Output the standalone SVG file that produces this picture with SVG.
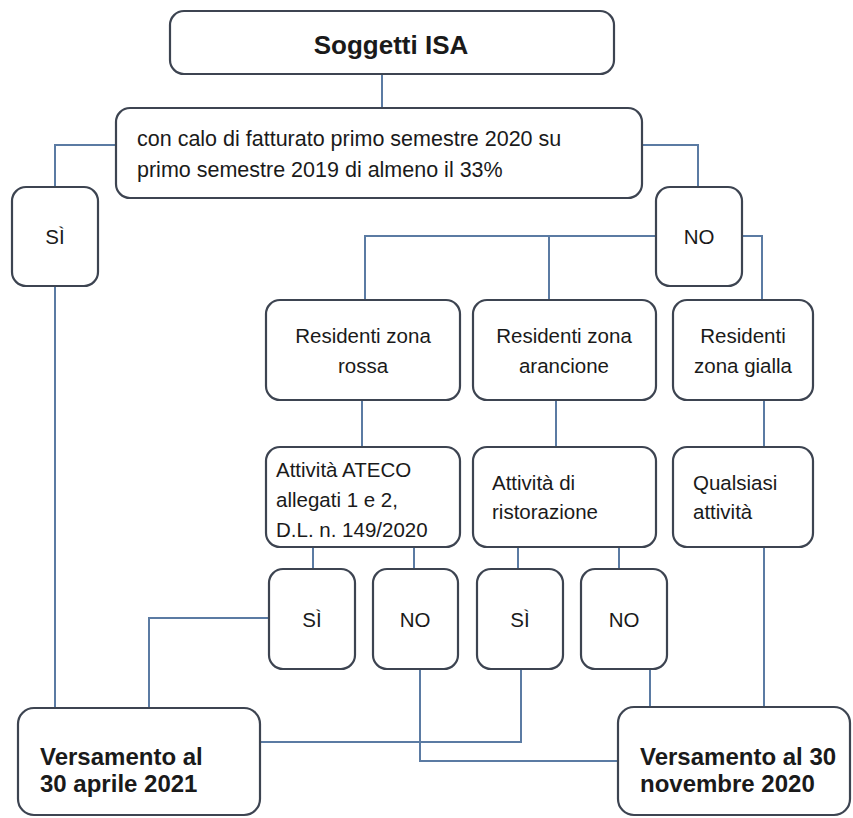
<svg xmlns="http://www.w3.org/2000/svg" width="853" height="818" viewBox="0 0 853 818">
<style>
.box{fill:#fff;stroke:#3d4451;stroke-width:2.2}
.ln{fill:none;stroke:#5b7ba3;stroke-width:2}
text{font-family:"Liberation Sans",Arial,sans-serif;fill:#1a1a1a}
.t{font-size:20.5px}
.c{text-anchor:middle}
.b{font-weight:bold;font-size:24px}
</style>
<rect width="853" height="818" fill="#fff"/>
<g id="connectors">
<polyline class="ln" points="382,74 382,108"/>
<polyline class="ln" points="116,145 55,145 55,187"/>
<polyline class="ln" points="642,145 698,145 698,187"/>
<polyline class="ln" points="656,236 365,236 365,300"/>
<polyline class="ln" points="549,236 549,300"/>
<polyline class="ln" points="742,236 762,236 762,300"/>
<polyline class="ln" points="362,400 362,447"/>
<polyline class="ln" points="556,400 556,447"/>
<polyline class="ln" points="764,400 764,447"/>
<polyline class="ln" points="313,547 313,569"/>
<polyline class="ln" points="414,547 414,569"/>
<polyline class="ln" points="518,547 518,569"/>
<polyline class="ln" points="619,547 619,569"/>
<polyline class="ln" points="764,547 764,707"/>
<polyline class="ln" points="55,286 55,708"/>
<polyline class="ln" points="269,618 149,618 149,708"/>
<polyline class="ln" points="260,742 521,742 521,669"/>
<polyline class="ln" points="420,669 420,761 618,761"/>
<polyline class="ln" points="650,669 650,707"/>
</g>
<g id="soggetti"><rect class="box" x="170" y="11" width="444" height="63" rx="14"/><text class="c" x="391" y="54" style="font-weight:bold;font-size:26px">Soggetti ISA</text></g>
<g id="condizione"><rect class="box" x="116" y="108" width="526" height="90" rx="14"/><text class="t" x="137" y="146" style="font-size:21.5px">con calo di fatturato primo semestre 2020 su</text><text class="t" x="137" y="177" style="font-size:21.5px">primo semestre 2019 di almeno il 33%</text></g>
<g id="si-main"><rect class="box" x="12" y="187" width="86" height="99" rx="14"/><text class="t c" x="55" y="244">SÌ</text></g>
<g id="no-main"><rect class="box" x="656" y="187" width="86" height="99" rx="14"/><text class="t c" x="699" y="244">NO</text></g>
<g id="zona-rossa"><rect class="box" x="266" y="300" width="194" height="100" rx="14"/><text class="t c" x="363" y="343">Residenti zona</text><text class="t c" x="363" y="373">rossa</text></g>
<g id="zona-arancione"><rect class="box" x="473" y="300" width="183" height="100" rx="14"/><text class="t c" x="564" y="343">Residenti zona</text><text class="t c" x="564" y="373">arancione</text></g>
<g id="zona-gialla"><rect class="box" x="673" y="300" width="140" height="100" rx="14"/><text class="t c" x="743" y="343">Residenti</text><text class="t c" x="743" y="373">zona gialla</text></g>
<g id="ateco"><rect class="box" x="266" y="447" width="194" height="100" rx="14"/><text class="t" x="276" y="477">Attività ATECO</text><text class="t" x="276" y="507">allegati 1 e 2,</text><text class="t" x="276" y="537">D.L. n. 149/2020</text></g>
<g id="ristorazione"><rect class="box" x="473" y="447" width="183" height="100" rx="14"/><text class="t" x="492" y="490">Attività di</text><text class="t" x="492" y="519">ristorazione</text></g>
<g id="qualsiasi"><rect class="box" x="673" y="447" width="140" height="100" rx="14"/><text class="t" x="693" y="490">Qualsiasi</text><text class="t" x="693" y="519">attività</text></g>
<g id="si-1"><rect class="box" x="269" y="569" width="86" height="100" rx="14"/><text class="t c" x="312" y="627">SÌ</text></g>
<g id="no-1"><rect class="box" x="373" y="569" width="85" height="100" rx="14"/><text class="t c" x="415" y="627">NO</text></g>
<g id="si-2"><rect class="box" x="477" y="569" width="86" height="100" rx="14"/><text class="t c" x="520" y="627">SÌ</text></g>
<g id="no-2"><rect class="box" x="581" y="569" width="86" height="100" rx="14"/><text class="t c" x="624" y="627">NO</text></g>
<g id="versamento-aprile"><rect class="box" x="18" y="708" width="242" height="107" rx="16"/><text class="b" x="40" y="765">Versamento al</text><text class="b" x="40" y="792">30 aprile 2021</text></g>
<g id="versamento-novembre"><rect class="box" x="618" y="707" width="232" height="108" rx="16"/><text class="b" x="640" y="765">Versamento al 30</text><text class="b" x="640" y="792">novembre 2020</text></g>
</svg>
